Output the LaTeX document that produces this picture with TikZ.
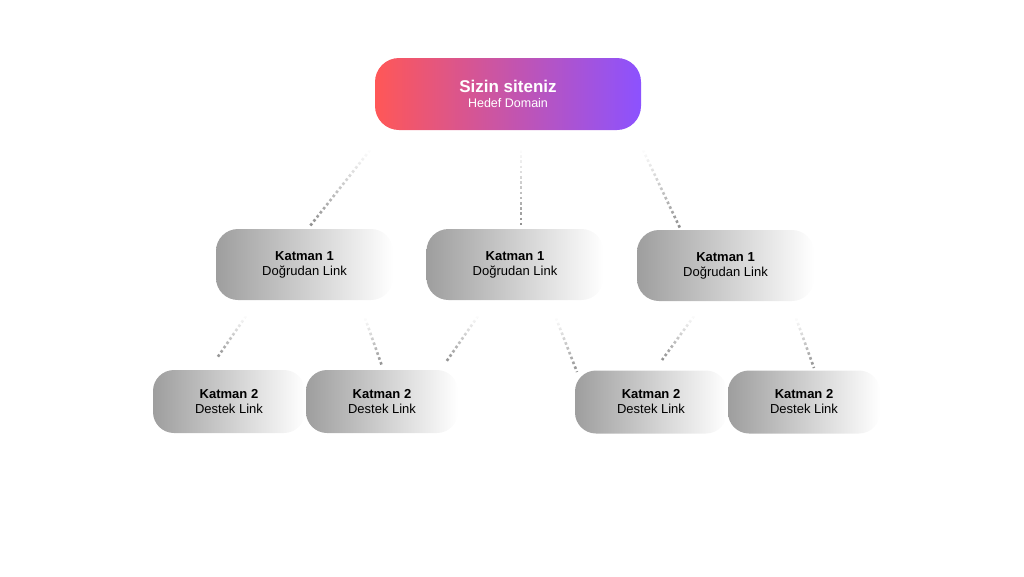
\documentclass[tikz,border=0pt]{standalone}
\usepackage{fontspec}
\setmainfont{Liberation Sans}
\usetikzlibrary{fadings}
\definecolor{cR}{HTML}{FF5757}
\definecolor{cP}{HTML}{8C52FF}
\definecolor{gA}{HTML}{9E9E9E}
\begin{document}
\begin{tikzpicture}[x=1pt,y=-1pt,
  top/.style={rounded corners=24pt,left color=cR,right color=cP,draw=none,minimum width=266pt,minimum height=72pt,align=center,text=white,inner sep=0pt},
  t1/.style={rounded corners=22pt,left color=gA,right color=white,draw=none,minimum width=177pt,minimum height=71pt,align=center,inner sep=0pt},
  t2/.style={rounded corners=21pt,left color=gA,right color=white,draw=none,minimum width=152pt,minimum height=63pt,align=center,inner sep=0pt},
  con/.style={line width=2.6pt,dash pattern=on 2.6pt off 2.6pt,color=black!45,path fading=north}]
\useasboundingbox (0,0) rectangle (1024,576);
\node[top] (T) at (508,94) {{\fontsize{17}{20}\selectfont\bfseries Sizin siteniz}\\[3pt]{\fontsize{12.5}{15}\selectfont Hedef Domain}};
\node[t1] (A) at (304.5,264.5) {{\fontsize{13}{16}\selectfont\bfseries Katman 1}\\[3pt]{\fontsize{13}{16}\selectfont Doğrudan Link}};
\node[t1] (B) at (515,264.5) {{\fontsize{13}{16}\selectfont\bfseries Katman 1}\\[3pt]{\fontsize{13}{16}\selectfont Doğrudan Link}};
\node[t1] (C) at (725.5,265.5) {{\fontsize{13}{16}\selectfont\bfseries Katman 1}\\[3pt]{\fontsize{13}{16}\selectfont Doğrudan Link}};
\node[t2] (A1) at (229,401.5) {{\fontsize{13}{16}\selectfont\bfseries Katman 2}\\[3pt]{\fontsize{13}{16}\selectfont Destek Link}};
\node[t2] (A2) at (382,401.5) {{\fontsize{13}{16}\selectfont\bfseries Katman 2}\\[3pt]{\fontsize{13}{16}\selectfont Destek Link}};
\node[t2] (C1) at (651,402) {{\fontsize{13}{16}\selectfont\bfseries Katman 2}\\[3pt]{\fontsize{13}{16}\selectfont Destek Link}};
\node[t2] (C2) at (804,402) {{\fontsize{13}{16}\selectfont\bfseries Katman 2}\\[3pt]{\fontsize{13}{16}\selectfont Destek Link}};
\coordinate (s1) at (370,150); \coordinate (e1) at (310,226);
\coordinate (s2) at (521,150); \coordinate (e2) at (521,226);
\coordinate (s3) at (643,150); \coordinate (e3) at (680,228);
\coordinate (s4) at (246,316); \coordinate (e4) at (217,358);
\coordinate (s5) at (365,318); \coordinate (e5) at (382,366);
\coordinate (s6) at (478,316); \coordinate (e6) at (446,362);
\coordinate (s7) at (556,318); \coordinate (e7) at (577,372);
\coordinate (s8) at (694,316); \coordinate (e8) at (662,360);
\coordinate (s9) at (796,318); \coordinate (e9) at (814,368);
\foreach \i in {1,...,9}{\draw[con] (s\i) -- (e\i);}
\end{tikzpicture}
\end{document}
